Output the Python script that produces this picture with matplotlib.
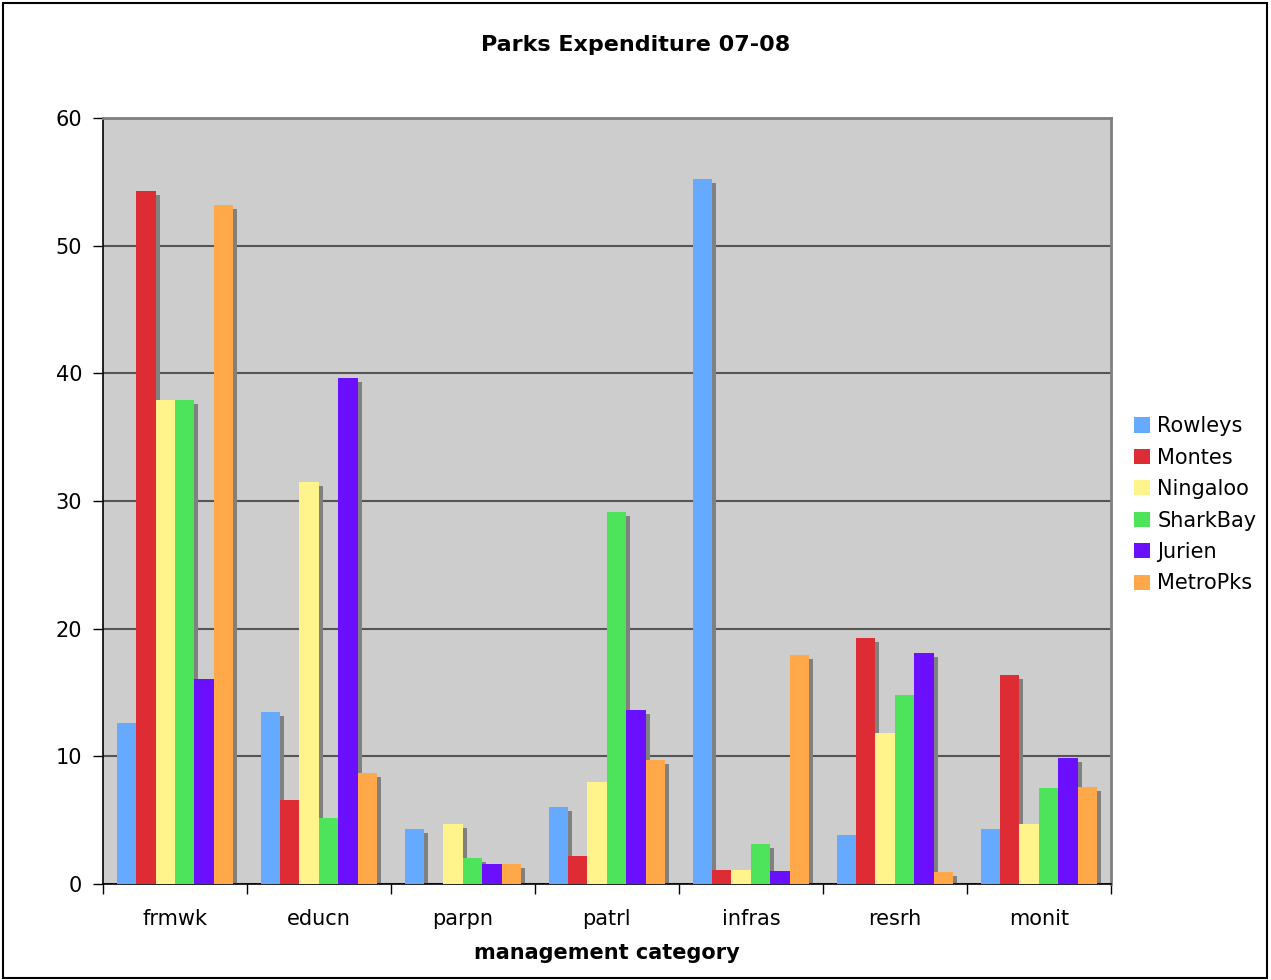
import numpy as np
import matplotlib.pyplot as plt
import matplotlib.transforms as mtransforms
from matplotlib.patches import Rectangle

categories = ["frmwk", "educn", "parpn", "patrl", "infras", "resrh", "monit"]
series = ["Rowleys", "Montes", "Ningaloo", "SharkBay", "Jurien", "MetroPks"]
colors = ["#66AAFF", "#DD2C33", "#FFF48C", "#4DE35A", "#6A10FF", "#FFA84A"]

rowleys = [12.6, 13.5, 4.3, 6.0, 55.2, 3.8, 4.3]
montes = [54.3, 6.6, 0.0, 2.2, 1.1, 19.3, 16.4]
ningaloo = [37.9, 31.5, 4.7, 8.0, 1.1, 11.8, 4.7]
sharkbay = [37.9, 5.2, 2.0, 29.1, 3.1, 14.8, 7.5]
jurien = [16.05, 39.6, 1.6, 13.6, 1.0, 18.1, 9.9]
metropks = [53.2, 8.7, 1.6, 9.7, 17.9, 0.9, 7.6]
values = [rowleys, montes, ningaloo, sharkbay, jurien, metropks]

fig = plt.figure(figsize=(12.71, 9.8), dpi=100)
ax = fig.add_axes([0.081, 0.098, 0.793, 0.7816])
ax.set_facecolor("#CDCDCD")

x = np.arange(len(categories))
w = 0.135
shadow = mtransforms.offset_copy(ax.transData, fig=fig, x=4, y=-4, units="dots")

# drop shadows first, then the coloured bars on top
for i, vals in enumerate(values):
    pos = x - 2.5 * w + i * w
    ax.bar(pos, vals, w, color="#808080", transform=shadow, zorder=2)
for i, (name, vals, c) in enumerate(zip(series, values, colors)):
    pos = x - 2.5 * w + i * w
    ax.bar(pos, vals, w, color=c, label=name, zorder=3)

ax.set_xlim(-0.5, len(categories) - 0.5)
ax.set_ylim(0, 60)
ax.set_yticks(range(0, 61, 10))
ax.yaxis.grid(True, color="#555555", linewidth=1.5)
ax.set_axisbelow(True)

ax.set_xticks(x)
ax.set_xticklabels(categories, fontsize=15)
ax.set_xticks(np.arange(-0.5, len(categories), 1.0), minor=True)
ax.tick_params(axis="x", which="major", length=0, pad=18)
ax.tick_params(axis="x", which="minor", length=7, direction="out", width=1)
ax.tick_params(axis="y", length=7, direction="out", labelsize=15, width=1, pad=8)

for s in ["top", "right"]:
    ax.spines[s].set_color("#808080")
    ax.spines[s].set_linewidth(2)
ax.spines["left"].set_linewidth(1.2)
ax.spines["bottom"].set_linewidth(1.2)

ax.set_xlabel("management category", fontsize=15, fontweight="bold", labelpad=10)
fig.suptitle("Parks Expenditure 07-08", fontsize=16, fontweight="bold", y=0.964)

ax.legend(loc="center left", bbox_to_anchor=(1.015, 0.495), frameon=False,
          fontsize=15, handlelength=0.75, handleheight=0.75,
          handletextpad=0.35, labelspacing=0.55, borderaxespad=0)

fig.patches.append(Rectangle((0.002, 0.002), 0.995, 0.995, transform=fig.transFigure,
                             fill=False, edgecolor="black", linewidth=1.5))

fig.savefig("out.png", dpi=100)
